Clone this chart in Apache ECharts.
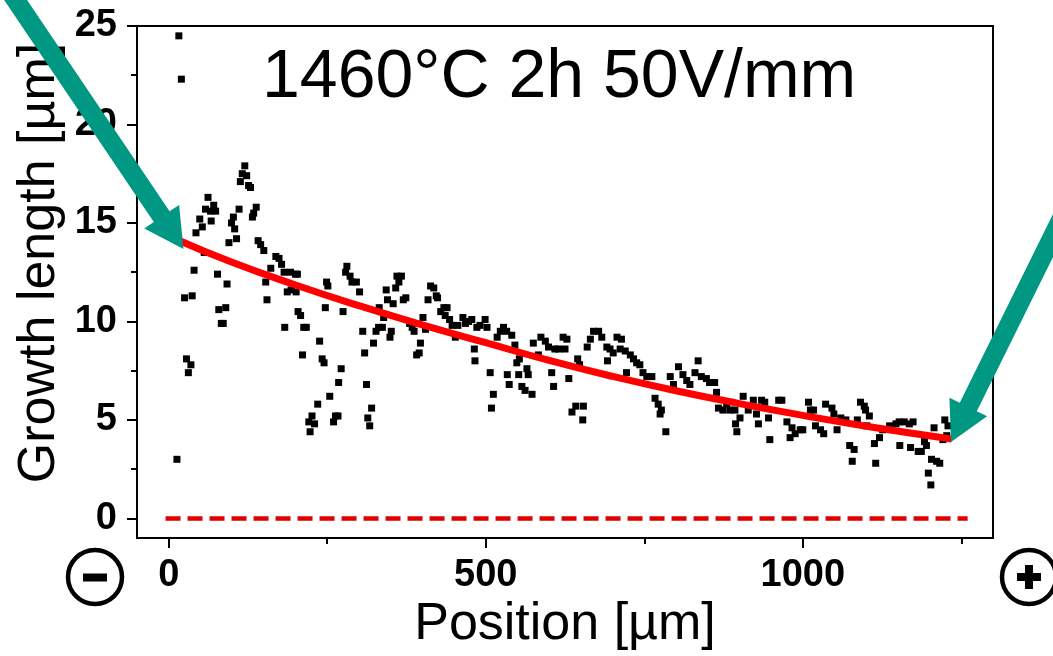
<!DOCTYPE html>
<html>
<head>
<meta charset="utf-8">
<script src="https://cdn.jsdelivr.net/npm/echarts@6/dist/echarts.min.js"></script>
<style>
html,body{margin:0;padding:0;background:#fff;}
#chart{width:1053px;height:656px;}
</style>
</head>
<body>
<div id="chart"></div>
<script>
// ---- data ----
const positions = [
  13,16,20,25,28,31,35,37,40,43,
  49,53,56,58,62,66,67,71,74,77,
  79,83,86,90,92,95,99,102,104,107,
  111,113,116,120,123,126,129,132,134,138,
  141,145,150,153,155,161,169,174,178,182,
  183,187,192,193,200,201,203,204,208,211,
  213,217,221,223,226,230,235,238,242,245,
  247,249,251,254,260,263,267,268,272,275,
  279,281,286,289,296,301,306,309,312,314,
  317,320,323,327,331,332,337,339,343,345,
  349,351,354,358,360,363,367,370,374,380,
  384,387,391,395,397,401,405,409,413,418,
  422,424,429,434,436,439,443,447,452,456,
  464,468,473,478,482,483,486,491,499,502,
  507,509,512,518,523,528,533,534,537,541,
  546,549,552,553,557,562,565,567,573,575,
  583,587,594,599,604,607,609,615,622,625,
  628,631,636,642,645,648,653,654,660,665,
  670,678,683,691,692,696,701,707,712,714,
  720,722,728,733,738,743,748,754,762,767,
  772,775,777,784,791,796,804,811,817,822,
  830,835,840,848,853,861,864,867,874,880,
  885,893,894,896,901,906,914,922,927,930,
  935,940,946,948,962,967,975,980,983,988,
  996,1000,1009,1012,1017,1020,1028,1033,1036,1046,
  1049,1054,1060,1068,1074,1078,1081,1086,1091,1097,
  1099,1101,1105,1113,1115,1121,1126,1137,1147,1152,
  1153,1160,1168,1170,1174,1182,1187,1192,1195,1198,
  1202,1203,1207,1211,1216,1221,1224,1227,1229
];
const growth = [
  3.0,24.5,22.3,11.2,8.1,7.4,7.8,11.3,12.6,14.5,
  15.2,14.8,13.5,15.7,16.3,15.6,15.1,15.9,15.6,12.4,
  10.6,9.9,9.9,10.7,11.9,14.0,15.0,15.3,14.7,14.2,
  15.7,17.1,17.5,17.9,17.4,16.9,16.8,15.3,15.5,15.8,
  14.1,13.9,13.6,12.0,11.1,12.7,13.3,13.2,12.9,12.5,
  9.7,11.5,12.5,11.6,12.4,11.5,12.4,10.5,10.3,8.3,
  9.7,9.7,4.9,4.4,5.2,4.8,5.8,9.0,8.1,7.9,
  10.7,12.0,11.8,6.2,4.9,5.2,5.2,6.9,7.6,10.5,
  12.5,12.8,12.3,12.0,12.0,11.5,9.5,8.4,6.8,5.1,
  4.7,5.6,8.9,9.5,9.7,10.7,9.7,10.2,11.6,11.1,
  9.2,9.5,10.9,11.7,12.3,12.0,12.3,11.1,11.2,9.9,
  9.7,9.5,8.3,8.4,8.9,10.2,9.6,11.1,11.8,11.7,
  11.3,11.2,10.5,10.7,10.3,10.7,10.1,9.8,9.2,9.8,
  10.2,9.9,10.0,10.1,8.6,8.0,9.7,9.8,10.1,9.7,
  7.4,5.6,6.3,9.2,9.5,9.7,9.5,7.3,6.8,9.3,
  8.8,7.9,7.3,8.1,6.7,6.5,7.6,7.3,6.3,8.9,
  8.3,9.2,9.0,8.7,7.4,6.7,8.6,8.6,9.2,8.6,
  9.1,7.1,5.4,5.7,8.1,7.8,5.0,5.7,8.7,9.1,
  9.5,9.5,9.2,8.7,8.0,8.6,8.4,9.2,8.6,9.1,
  8.5,7.4,8.3,8.1,7.9,7.8,7.4,7.2,7.2,6.1,
  5.8,5.3,5.5,4.4,7.2,6.8,7.7,7.3,7.0,6.8,
  7.4,8.0,7.2,7.1,6.9,6.9,6.4,5.6,5.5,5.8,
  5.5,5.5,4.8,4.4,5.1,6.2,5.5,6.0,5.3,4.8,
  6.0,5.9,5.1,4.0,6.0,6.0,4.9,4.1,4.6,4.3,
  4.5,4.5,5.9,5.5,5.5,4.7,4.5,4.3,5.8,5.6,
  5.3,4.5,5.1,5.0,3.7,2.9,3.5,5.0,5.9,5.7,
  5.5,4.7,5.2,3.8,2.8,4.1,4.5,4.7,4.8,4.9,
  3.7,4.9,4.8,3.6,4.9,3.4,3.4,3.9,3.7,2.3,
  1.7,3.0,4.6,2.9,2.8,4.0,5.0,4.2,4.7
];
// fitted curve
const fitX = [10,100,200,300,400,500,600,700,800,900,1000,1100,1235];
const fitY = [14.2,13.0,11.85,10.8,9.83,8.92,8.02,7.21,6.48,5.83,5.23,4.68,4.03];
// zero reference line
const zeroX = [-5,1260];
const zeroY = [0,0];
// ticks
const xMajorTicks = [0,500,1000];
const xMinorTicks = [250,750,1250];
const yMajorTicks = [0,5,10,15,20,25];
const yMinorTicks = [2.5,7.5,12.5,17.5,22.5];
const titleText = '1460°C 2h 50V/mm';
const xTitle = 'Position [µm]';
const yTitle = 'Growth length [µm]';

// ---- chart ----
const FONT = '"Liberation Sans", Arial, sans-serif';
const chart = echarts.init(document.getElementById('chart'), null, {renderer:'canvas'});

function arrowPoints(tip, dir, headLen, headHalf, shaftHalf, shaftLen){
  const l = Math.hypot(dir[0], dir[1]);
  const d = [dir[0]/l, dir[1]/l];
  const n = [-d[1], d[0]];
  const B = [tip[0]-d[0]*headLen, tip[1]-d[1]*headLen];
  const E = [B[0]-d[0]*shaftLen, B[1]-d[1]*shaftLen];
  return [
    tip,
    [B[0]+n[0]*headHalf, B[1]+n[1]*headHalf],
    [B[0]+n[0]*shaftHalf, B[1]+n[1]*shaftHalf],
    [E[0]+n[0]*shaftHalf, E[1]+n[1]*shaftHalf],
    [E[0]-n[0]*shaftHalf, E[1]-n[1]*shaftHalf],
    [B[0]-n[0]*shaftHalf, B[1]-n[1]*shaftHalf],
    [B[0]-n[0]*headHalf, B[1]-n[1]*headHalf]
  ];
}
const TEAL = '#009882';
const fmt = v => String(v);

const option = {
  animation: false,
  backgroundColor: '#fff',
  grid: {left:137, right:60, top:26, bottom:114, show:true, borderColor:'#000', borderWidth:2, backgroundColor:'transparent'},
  xAxis: [{
    type:'value', min:-50, max:1300, position:'bottom',
    axisLine:{show:true, onZero:false, lineStyle:{color:'#000', width:2}},
    axisTick:{show:true, customValues:xMajorTicks, length:10, lineStyle:{color:'#000', width:2}},
    axisLabel:{customValues:xMajorTicks, formatter:fmt, margin:18, color:'#000', fontSize:38, fontWeight:'bold', fontFamily:FONT},
    splitLine:{show:false},
    name:xTitle, nameLocation:'middle', nameGap:51,
    nameTextStyle:{color:'#000', fontSize:52, fontFamily:FONT}
  },{
    type:'value', min:-50, max:1300, position:'bottom',
    axisLine:{show:false, onZero:false},
    axisTick:{show:true, customValues:xMinorTicks, length:6, lineStyle:{color:'#000', width:2}},
    axisLabel:{show:false},
    splitLine:{show:false}
  }],
  yAxis: [{
    type:'value', min:-1, max:25, position:'left',
    axisLine:{show:true, onZero:false, lineStyle:{color:'#000', width:2}},
    axisTick:{show:true, customValues:yMajorTicks, length:10, lineStyle:{color:'#000', width:2}},
    axisLabel:{customValues:yMajorTicks, formatter:fmt, margin:20, color:'#000', fontSize:38, fontWeight:'bold', fontFamily:FONT},
    splitLine:{show:false}
  },{
    type:'value', min:-1, max:25, position:'left',
    axisLine:{show:false, onZero:false},
    axisTick:{show:true, customValues:yMinorTicks, length:6, lineStyle:{color:'#000', width:2}},
    axisLabel:{show:false},
    splitLine:{show:false}
  }],
  series: [{
    type:'line', xAxisIndex:0, yAxisIndex:0,
    data: zeroX.map((x,i)=>[x, zeroY[i]]),
    showSymbol:false, symbol:'none',
    lineStyle:{color:'#e00000', width:4.5, type:[15,7]},
    z:2
  },{
    type:'scatter', xAxisIndex:0, yAxisIndex:0,
    data: positions.map((x,i)=>[x, growth[i]]),
    symbol:'rect', symbolSize:7,
    itemStyle:{color:'#000', opacity:1},
    z:3
  },{
    type:'line', xAxisIndex:0, yAxisIndex:0,
    data: fitX.map((x,i)=>[x, fitY[i]]),
    smooth:true, showSymbol:false, symbol:'none',
    lineStyle:{color:'#ff0000', width:7},
    z:4
  }],
  graphic: [
    {type:'text', z:100, style:{text:titleText, x:262, y:78, fontSize:68, fontFamily:FONT, fill:'#000', align:'left', verticalAlign:'middle'}},
    {type:'text', z:100, x:40, y:263, rotation:Math.PI/2, style:{text:yTitle, x:0, y:0, fontSize:52, fontFamily:FONT, fill:'#000', align:'center', verticalAlign:'middle'}},
    {type:'polygon', z:200, shape:{points:arrowPoints([183.5,249],[0.559,0.829],39,21,9.5,420)}, style:{fill:TEAL}},
    {type:'polygon', z:200, shape:{points:arrowPoints([951,442],[-0.443,0.897],39,21,9.5,420)}, style:{fill:TEAL}},
    {type:'circle', z:100, shape:{cx:95, cy:577, r:27}, style:{fill:'#fff', stroke:'#000', lineWidth:4.5}},
    {type:'rect', z:101, shape:{x:83, y:573.5, width:24, height:8}, style:{fill:'#000'}},
    {type:'circle', z:100, shape:{cx:1029, cy:577, r:27}, style:{fill:'#fff', stroke:'#000', lineWidth:4.5}},
    {type:'rect', z:101, shape:{x:1017, y:573, width:24, height:8}, style:{fill:'#000'}},
    {type:'rect', z:101, shape:{x:1025, y:565, width:8, height:24}, style:{fill:'#000'}}
  ]
};
chart.setOption(option);
</script>
</body>
</html>
